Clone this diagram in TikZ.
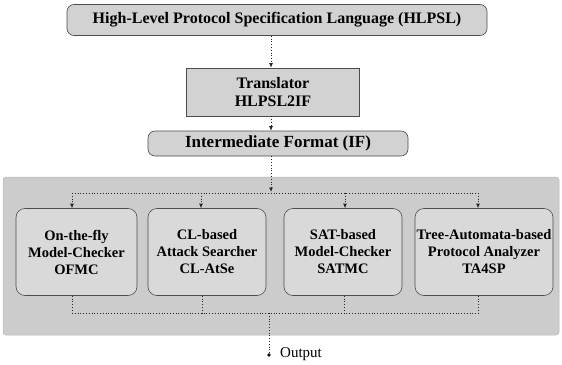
\documentclass[tikz,border=0pt]{standalone}
\usepackage{fontspec}
\setmainfont{Liberation Serif}
\usetikzlibrary{arrows.meta}
\begin{document}
\begin{tikzpicture}[x=1pt,y=-1pt,
  boxfill/.style={fill=gray!35, draw=gray!60!black, line width=0.6pt},
  txt/.style={align=center, font=\bfseries\fontsize{14.5}{17}\selectfont, inner sep=0pt},
  roundbox/.style={boxfill, txt, rounded corners=7pt},
  sqbox/.style={boxfill, txt},
  toolbox/.style={draw=gray!60!black, line width=0.6pt, fill=gray!30, txt, rounded corners=9pt, minimum height=87pt},
  conn/.style={draw=black!85, dotted, line width=0.8pt},
  arr/.style={conn, -{Latex[length=4.5pt,width=4pt]}},
]
\fill[white] (0,0) rectangle (562,364);
\useasboundingbox (0,0) rectangle (562,364);

% panel
\node[draw=gray!55, line width=0.5pt, fill=gray!40, rounded corners=3pt, minimum width=556pt, minimum height=158pt, inner sep=0pt] (panel) at (281,256) {};

\node[roundbox, minimum width=420pt, minimum height=31pt, font=\bfseries\fontsize{16}{18}\selectfont] (hlpsl) at (277,20) {High-Level Protocol Specification Language (HLPSL)};
\node[sqbox, minimum width=173pt, minimum height=48pt, font=\bfseries\fontsize{16}{18}\selectfont] (trans) at (273,92) {Translator\\HLPSL2IF};
\node[roundbox, minimum width=260pt, minimum height=25pt, font=\bfseries\fontsize{17}{19}\selectfont] (if) at (278,143.5) {Intermediate Format (IF)};

\node[toolbox, minimum width=121pt] (b1) at (76.5,252) {On-the-fly\\Model-Checker\\OFMC};
\node[toolbox, minimum width=118pt] (b2) at (207,252) {CL-based\\Attack Searcher\\CL-AtSe};
\node[toolbox, minimum width=118pt] (b3) at (343,252) {SAT-based\\Model-Checker\\SATMC};
\node[toolbox, minimum width=138pt] (b4) at (484,252) {Tree-Automata-based\\Protocol Analyzer\\TA4SP};

\coordinate (cx) at (271,0);
\coordinate (split) at (271,192);
\coordinate (t1) at (72,193);
\coordinate (t2) at (201,193);
\coordinate (t3) at (345,193);
\coordinate (t4) at (478,193);
\coordinate (u1) at (72,313);
\coordinate (u2) at (202,313);
\coordinate (u3) at (344,313);
\coordinate (u4) at (478,313);
\coordinate (join) at (269,313);
\coordinate (out) at (269,355);

\draw[arr] (hlpsl.south -| cx) -- (trans.north -| cx);
\draw[arr] (trans.south -| cx) -- (if.north -| cx);
\draw[arr] (if.south -| cx) -- (split);
\draw[conn] (t1) -- (t4);
\draw[arr] (t1) -- (t1 |- b1.north);
\draw[arr] (t2) -- (t2 |- b2.north);
\draw[arr] (t3) -- (t3 |- b3.north);
\draw[arr] (t4) -- (t4 |- b4.north);

\draw[conn] (u1 |- b1.south) -- (u1);
\draw[conn] (u2 |- b2.south) -- (u2);
\draw[conn] (u3 |- b3.south) -- (u3);
\draw[conn] (u4 |- b4.south) -- (u4);
\draw[conn] (u1) -- (u4);
\draw[conn] (join) -- (out);
\fill[black] (out) circle (1.8pt);
\node[anchor=west, font=\fontsize{15}{17}\selectfont, inner sep=0pt] (outlbl) at (280,354) {Output};
\end{tikzpicture}
\end{document}
